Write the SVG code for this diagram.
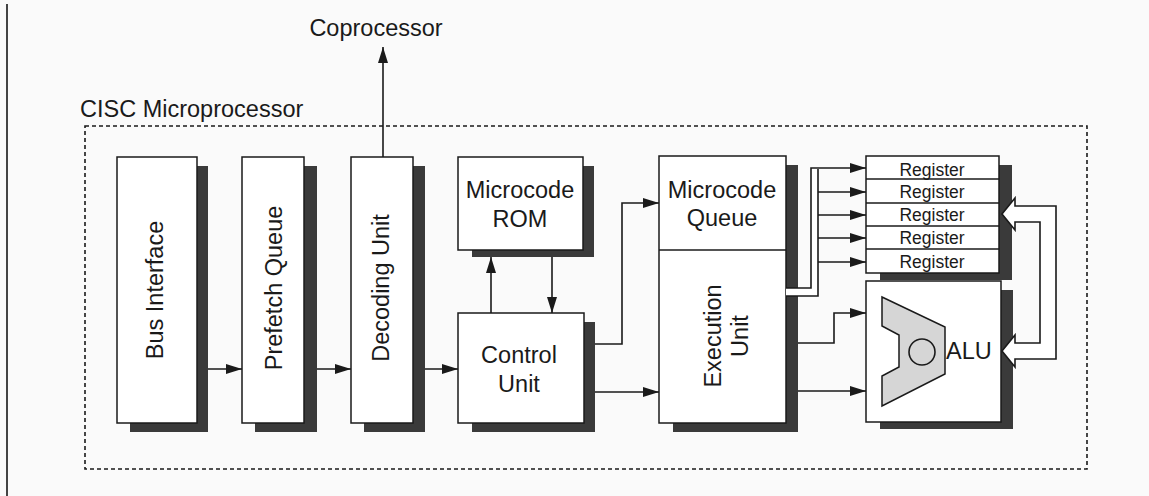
<svg xmlns="http://www.w3.org/2000/svg" width="1149" height="496" viewBox="0 0 1149 496">
<defs>
<style>
.box{fill:#fff;stroke:#1a1a1a;stroke-width:1.5}
.sh{fill:#3a3a3a}
.lbl{font-family:"Liberation Sans",Arial,Helvetica,sans-serif;font-size:23.5px;fill:#1a1a1a}
.reg{font-family:"Liberation Sans",Arial,Helvetica,sans-serif;font-size:17.5px;fill:#1a1a1a}
.ln{fill:none;stroke:#1a1a1a;stroke-width:1.6}
.hol{fill:#fff;stroke:#1a1a1a;stroke-width:1.6;stroke-linejoin:miter}
</style>
<marker id="ah" markerUnits="userSpaceOnUse" viewBox="0 0 16 10" refX="16" refY="5" markerWidth="16" markerHeight="10" orient="auto">
<path d="M0,0 L16,5 L0,10 z" fill="#1a1a1a"/>
</marker>
</defs>
<rect x="0" y="0" width="1149" height="496" fill="#fafafa"/>
<line x1="7" y1="4" x2="7" y2="496" stroke="#444" stroke-width="2"/>

<g id="frame">
<rect x="85" y="126" width="1002" height="343" fill="none" stroke="#1a1a1a" stroke-width="1.6" stroke-dasharray="4,3"/>
<text class="lbl" x="80" y="117">CISC Microprocessor</text>
</g>

<g id="coprocessor">
<text class="lbl" x="376" y="36" text-anchor="middle">Coprocessor</text>
</g>

<g id="bus-interface">
<rect class="sh" x="130" y="166" width="78" height="266"/>
<rect class="box" x="117" y="157" width="80" height="266"/>
<text class="lbl" transform="translate(163,290) rotate(-90)" text-anchor="middle">Bus Interface</text>
</g>

<g id="prefetch-queue">
<rect class="sh" x="255" y="166" width="62" height="266"/>
<rect class="box" x="242" y="157" width="62" height="266"/>
<text class="lbl" transform="translate(282,288) rotate(-90)" text-anchor="middle">Prefetch Queue</text>
</g>

<g id="decoding-unit">
<rect class="sh" x="364" y="166" width="61" height="266"/>
<rect class="box" x="351" y="157" width="62" height="266"/>
<text class="lbl" transform="translate(389,288) rotate(-90)" text-anchor="middle">Decoding Unit</text>
</g>

<g id="microcode-rom">
<rect class="sh" x="472" y="166" width="122" height="91"/>
<rect class="box" x="458" y="157" width="125" height="93"/>
<text class="lbl" x="520" y="198" text-anchor="middle">Microcode</text>
<text class="lbl" x="520" y="227" text-anchor="middle">ROM</text>
</g>

<g id="control-unit">
<rect class="sh" x="472" y="322" width="123" height="110"/>
<rect class="box" x="458" y="313" width="126" height="110"/>
<text class="lbl" x="519" y="363" text-anchor="middle">Control</text>
<text class="lbl" x="519" y="392" text-anchor="middle">Unit</text>
</g>

<g id="execution-unit">
<rect class="sh" x="673" y="165" width="125" height="267"/>
<rect class="box" x="659" y="156" width="127" height="267"/>
<line x1="659" y1="250" x2="786" y2="250" stroke="#1a1a1a" stroke-width="1.5"/>
<text class="lbl" x="722" y="198" text-anchor="middle">Microcode</text>
<text class="lbl" x="722" y="226" text-anchor="middle">Queue</text>
<text class="lbl" transform="translate(721,336) rotate(-90)" text-anchor="middle">Execution</text>
<text class="lbl" transform="translate(748,336) rotate(-90)" text-anchor="middle">Unit</text>
</g>

<g id="registers">
<rect class="sh" x="880" y="165" width="132" height="115"/>
<rect class="box" x="866" y="156" width="133" height="117"/>
<g stroke="#1a1a1a" stroke-width="1.5">
<line x1="866" y1="179" x2="999" y2="179"/>
<line x1="866" y1="203" x2="999" y2="203"/>
<line x1="866" y1="226" x2="999" y2="226"/>
<line x1="866" y1="249" x2="999" y2="249"/>
</g>
<text class="reg" x="932" y="176" text-anchor="middle">Register</text>
<text class="reg" x="932" y="198" text-anchor="middle">Register</text>
<text class="reg" x="932" y="221" text-anchor="middle">Register</text>
<text class="reg" x="932" y="244" text-anchor="middle">Register</text>
<text class="reg" x="932" y="268" text-anchor="middle">Register</text>
</g>

<g id="alu">
<rect class="sh" x="880" y="290" width="133" height="139"/>
<rect class="box" x="866" y="281" width="135" height="141"/>
<polygon points="882,297 945,327 945,374 882,406 882,376 899,367 899,335 882,326" fill="#d6d6d6" stroke="#1a1a1a" stroke-width="1.5"/>
<circle cx="922" cy="352" r="13" fill="none" stroke="#1a1a1a" stroke-width="1.6"/>
<text class="lbl" x="946" y="359">ALU</text>
</g>

<g id="connectors">
<line class="ln" x1="208" y1="369" x2="242" y2="369" marker-end="url(#ah)"/>
<line class="ln" x1="317" y1="369" x2="351" y2="369" marker-end="url(#ah)"/>
<line class="ln" x1="425" y1="369" x2="458" y2="369" marker-end="url(#ah)"/>
<line class="ln" x1="383" y1="157" x2="383" y2="47" marker-end="url(#ah)"/>
<line class="ln" x1="491" y1="313" x2="491" y2="257" marker-end="url(#ah)"/>
<line class="ln" x1="552" y1="257" x2="552" y2="313" marker-end="url(#ah)"/>
<polyline class="ln" points="595,344 622,344 622,203 659,203" marker-end="url(#ah)"/>
<line class="ln" x1="595" y1="392" x2="659" y2="392" marker-end="url(#ah)"/>
<polygon points="786,288 811,288 811,168 818,168 818,296 786,296" fill="#fff"/>
<polyline class="ln" points="786,288 811,288 811,168 866,168" marker-end="url(#ah)"/>
<polyline class="ln" points="786,296 818,296 818,169"/>
<line class="ln" x1="818" y1="192" x2="866" y2="192" marker-end="url(#ah)"/>
<line class="ln" x1="818" y1="215" x2="866" y2="215" marker-end="url(#ah)"/>
<line class="ln" x1="818" y1="238" x2="866" y2="238" marker-end="url(#ah)"/>
<line class="ln" x1="818" y1="262" x2="866" y2="262" marker-end="url(#ah)"/>
<polyline class="ln" points="798,343 834,343 834,313 866,313" marker-end="url(#ah)"/>
<line class="ln" x1="798" y1="391" x2="866" y2="391" marker-end="url(#ah)"/>
<polygon class="hol" points="1002,214 1015,198 1015,206 1056,206 1056,359 1015,359 1015,367 1002,351 1015,335 1015,343 1040,343 1040,222 1015,222 1015,230"/>
</g>
</svg>
